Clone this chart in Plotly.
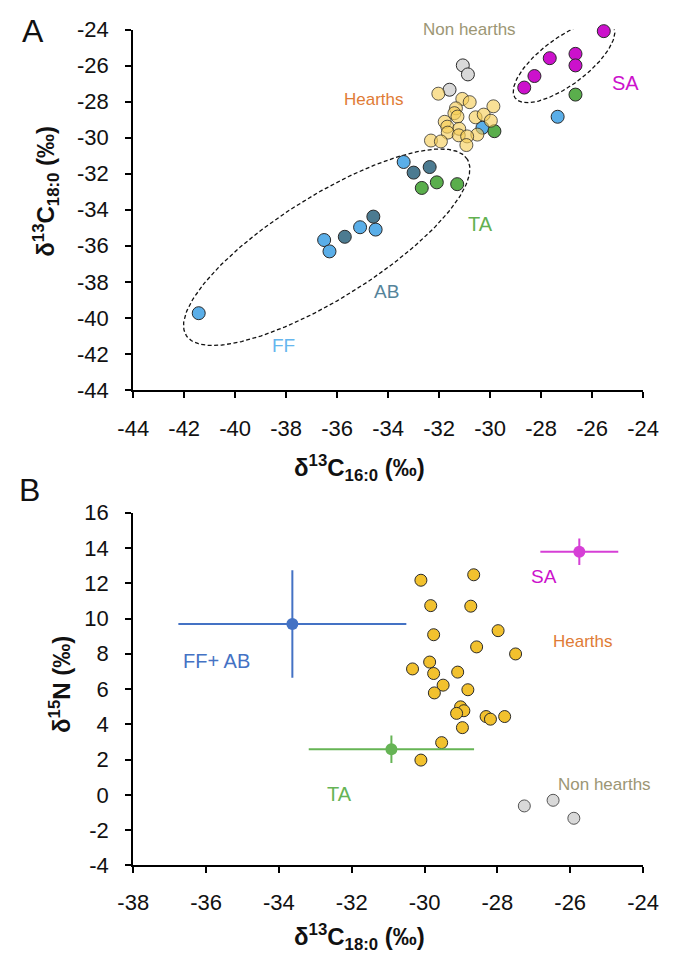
import numpy as np
import plotly.graph_objects as go

# ---------------- Panel A data (d13C16:0 vs d13C18:0) ----------------
ff_a_x = [-41.43, -36.51, -36.30, -35.10, -34.49, -33.39, -30.30, -27.35]
ff_a_y = [-39.74, -35.68, -36.31, -34.97, -35.10, -31.35, -29.45, -28.84]
ab_a_x = [-35.70, -34.58, -33.00, -32.37]
ab_a_y = [-35.50, -34.38, -31.94, -31.63]
ta_a_x = [-32.68, -32.09, -31.29, -29.83, -26.65]
ta_a_y = [-32.79, -32.48, -32.58, -29.64, -27.61]
sa_a_x = [-25.54, -26.65, -26.65, -27.66, -28.26, -28.66]
sa_a_y = [-24.09, -25.35, -25.99, -25.59, -26.58, -27.22]
nh_a_x = [-31.07, -30.87, -31.59]
nh_a_y = [-25.99, -26.49, -27.34]
hearth_a_x = [-32.03, -31.09, -30.80, -29.87, -31.34, -31.40, -31.28, -30.57, -30.25, -29.97,
              -31.78, -31.68, -31.21, -31.66, -31.23, -30.50, -30.90, -32.32, -31.93, -30.93]
hearth_a_y = [-27.56, -27.85, -28.03, -28.26, -28.37, -28.64, -28.83, -28.87, -28.72, -29.06,
              -29.12, -29.39, -29.51, -29.72, -29.87, -29.83, -29.93, -30.16, -30.21, -30.41]

# ---------------- Panel B data (d13C18:0 vs d15N) ----------------
hearth_b_x = [-30.10, -28.65, -29.83, -28.73, -29.75, -27.98, -28.57, -27.50, -30.33, -29.86,
              -29.75, -29.09, -29.49, -28.81, -29.73, -29.01, -28.92, -29.12, -28.31, -28.19,
              -27.80, -28.96, -29.53, -30.10]
hearth_b_y = [12.17, 12.48, 10.73, 10.70, 9.08, 9.31, 8.39, 7.99, 7.14, 7.53,
              6.88, 6.96, 6.22, 5.96, 5.78, 4.99, 4.77, 4.62, 4.44, 4.29,
              4.44, 3.81, 2.96, 1.97]
nh_b_x = [-27.26, -26.47, -25.90]
nh_b_y = [-0.63, -0.31, -1.33]
group_names = ["FF+ AB", "TA", "SA"]
group_mean_x = [-33.63, -30.91, -25.75]
group_mean_y = [9.69, 2.59, 13.79]
group_sd_x = [3.13, 2.27, 1.07]
group_sd_y = [3.05, 0.78, 0.75]

# tick labels
xa_ticks = list(range(-44, -23, 2))
ya_ticks = list(range(-44, -23, 2))
xb_ticks = list(range(-38, -23, 2))
yb_ticks = list(range(-4, 17, 2))

# ---------------- layout geometry (pixels) ----------------
W, H = 680, 967
PX0, PX1 = 123, 658
A_TOP, A_BOT = 18, 388
B_TOP, B_BOT = 514, 876

FONT = "Liberation Sans, Arial, sans-serif"
C_FF = "#5aaee8"
C_AB = "#4c7b91"
C_TA = "#5aae4c"
C_SA = "#cc11cc"
C_NH = "#d9d9d9"
C_HA = "rgba(245,205,85,0.62)"
C_HB = "#f2c12e"
EDGE = "#2a2a2a"

fig = go.Figure()


def pts(x, y, color, xa, ya, size=13, edge=EDGE):
    return go.Scatter(x=x, y=y, mode="markers", xaxis=xa, yaxis=ya, cliponaxis=False,
                      marker=dict(size=size, color=color, line=dict(color=edge, width=1)),
                      showlegend=False, hoverinfo="x+y")


# ellipse helper (semi-axes in px, angle in degrees, center in data units)
pxu_ax = (PX1 - PX0) / 20.0
pxu_ay = (A_BOT - A_TOP) / 20.0


def ellipse(cx, cy, a, b, ang):
    t = np.linspace(0, 2 * np.pi, 240)
    th = np.radians(ang)
    ex = a * np.cos(t) * np.cos(th) - b * np.sin(t) * np.sin(th)
    ey = a * np.cos(t) * np.sin(th) + b * np.sin(t) * np.cos(th)
    return cx + ex / pxu_ax, cy + ey / pxu_ay


for (cx, cy, a, b, ang) in [(-36.41, -36.08, 173, 53, 31.4), (-27.10, -25.79, 63.3, 24.4, 35.8)]:
    ex, ey = ellipse(cx, cy, a, b, ang)
    fig.add_trace(go.Scatter(x=ex, y=ey, mode="lines", xaxis="x", yaxis="y",
                             line=dict(color="#111111", width=1.3, dash="4px,2.5px"),
                             showlegend=False, hoverinfo="skip", cliponaxis=False))

fig.add_trace(pts(nh_a_x, nh_a_y, C_NH, "x", "y"))
fig.add_trace(pts(ff_a_x, ff_a_y, C_FF, "x", "y"))
fig.add_trace(pts(ab_a_x, ab_a_y, C_AB, "x", "y"))
fig.add_trace(pts(ta_a_x, ta_a_y, C_TA, "x", "y"))
fig.add_trace(pts(sa_a_x, sa_a_y, C_SA, "x", "y"))
fig.add_trace(pts(hearth_a_x, hearth_a_y, C_HA, "x", "y", edge="rgba(40,40,40,0.75)"))

# Panel B
fig.add_trace(pts(hearth_b_x, hearth_b_y, C_HB, "x2", "y2", size=12))
fig.add_trace(pts(nh_b_x, nh_b_y, C_NH, "x2", "y2", size=12, edge="#555555"))
grp_colors = ["#4472c4", "#66b455", "#d63fd6"]
for i in range(3):
    fig.add_trace(go.Scatter(
        x=[group_mean_x[i]], y=[group_mean_y[i]], mode="markers", xaxis="x2", yaxis="y2",
        marker=dict(size=12, color=grp_colors[i]),
        error_x=dict(type="data", array=[group_sd_x[i]], color=grp_colors[i], thickness=2, width=0),
        error_y=dict(type="data", array=[group_sd_y[i]], color=grp_colors[i], thickness=2, width=0),
        showlegend=False, name=group_names[i], cliponaxis=False))

axis_common = dict(showline=True, linecolor="black", linewidth=2, ticks="outside",
                   ticklen=6, tickwidth=1.5, tickcolor="black", showgrid=False,
                   zeroline=False, tickfont=dict(family=FONT, size=22, color="#111111"),
                   fixedrange=True)

xd = [PX0 / W, PX1 / W]
fig.update_layout(
    width=W, height=H, margin=dict(l=0, r=0, t=0, b=0),
    plot_bgcolor="white", paper_bgcolor="white",
    font=dict(family=FONT, color="#111111"),
    xaxis=dict(domain=xd, range=[-44, -24], anchor="y", tickvals=xa_ticks,
               ticktext=[str(v) for v in xa_ticks], ticklabelstandoff=12, **axis_common),
    yaxis=dict(domain=[1 - A_BOT / H, 1 - A_TOP / H], range=[-44, -24], anchor="x",
               tickvals=ya_ticks, ticktext=[str(v) for v in ya_ticks],
               ticklabelstandoff=12, **axis_common),
    xaxis2=dict(domain=xd, range=[-38, -24], anchor="y2", tickvals=xb_ticks,
                ticktext=[str(v) for v in xb_ticks], ticklabelstandoff=10, **axis_common),
    yaxis2=dict(domain=[1 - B_BOT / H, 1 - B_TOP / H], range=[-4, 16], anchor="x2",
                tickvals=yb_ticks, ticktext=[str(v) for v in yb_ticks],
                ticklabelstandoff=12, **axis_common),
)


def lab(text, x, y, color, xr, yr, size=17):
    fig.add_annotation(text=text, x=x, y=y, xref=xr, yref=yr, showarrow=False,
                       font=dict(family=FONT, size=size, color=color),
                       xanchor="center", yanchor="middle")


# Panel A labels
lab("Non hearths", -30.79, -24.0, "#9c9674", "x", "y")
lab("Hearths", -34.54, -27.88, "#e07b35", "x", "y")
lab("SA", -24.67, -26.96, C_SA, "x", "y", 20)
lab("TA", -30.37, -34.80, "#62b150", "x", "y", 20)
lab("AB", -34.06, -38.53, "#55849a", "x", "y", 19)
lab("FF", -38.11, -41.55, "#66b6ee", "x", "y", 19)
# Panel B labels
lab("SA", -26.72, 12.41, C_SA, "x2", "y2", 19)
lab("Hearths", -25.66, 8.71, "#e07b35", "x2", "y2")
lab("Non hearths", -25.05, 0.59, "#9c9674", "x2", "y2")
lab("FF+ AB", -35.70, 7.60, "#4472c4", "x2", "y2", 20)
lab("TA", -32.33, 0.03, "#66b455", "x2", "y2", 20)


def ptext(text, xpx, ypx, size, rot=0):
    fig.add_annotation(text=text, x=xpx / W, y=1 - ypx / H, xref="paper", yref="paper",
                       showarrow=False, textangle=rot,
                       font=dict(family=FONT, size=size, color="#111111"),
                       xanchor="center", yanchor="middle")


ptext("A", 18, 19, 32)
ptext("B", 14, 491, 32)
ptext("<b>δ<sup>13</sup>C<sub>16:0</sub> (‰)</b>", 360, 468, 24)
ptext("<b>δ<sup>13</sup>C<sub>18:0</sub> (‰)</b>", 360, 950, 24)
ptext("<b>δ<sup>13</sup>C<sub>18:0</sub> (‰)</b>", 32, 184, 24, -90)
ptext("<b>δ<sup>15</sup>N (‰)</b>", 46, 690, 24, -90)

fig.write_html("out.html", config={"displayModeBar": False},
               post_script="document.body.style.margin='0';")
